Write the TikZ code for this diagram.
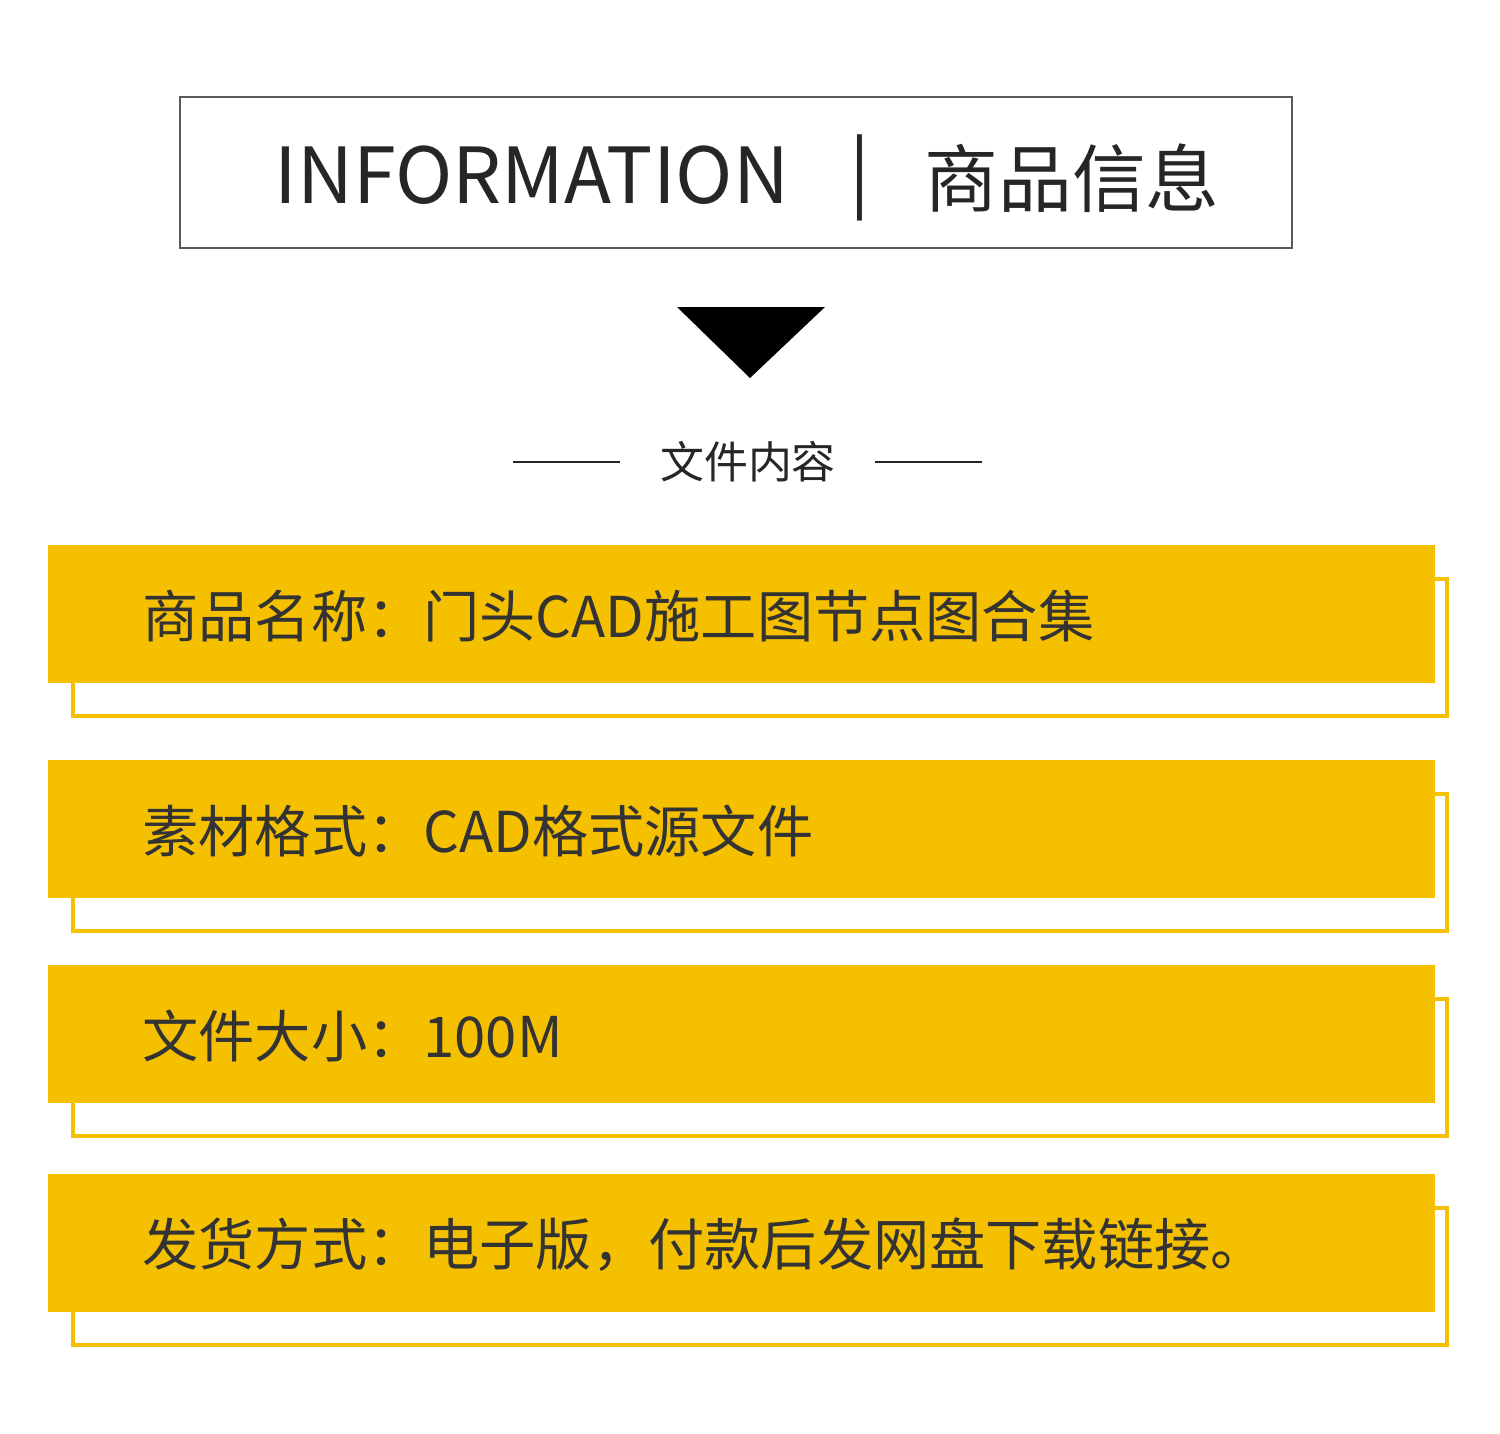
\documentclass[tikz,border=0pt]{standalone}
\usepackage{fontspec}
\setmainfont{Noto Sans CJK SC}
\usetikzlibrary{positioning}
\definecolor{barYellow}{HTML}{F5C000}
\definecolor{textGray}{HTML}{333333}
\tikzset{
    bar/.style={fill=barYellow,draw=none},
    barframe/.style={draw=barYellow,line width=1.8pt},
    bartext/.style={anchor=west,inner sep=0pt,text=textGray,font=\fontsize{32}{36}\selectfont},
}
\begin{document}
\begin{tikzpicture}[x=0.02cm,y=-0.02cm]
    \useasboundingbox[fill=white] (0,0) rectangle (1500,1433);

    % titre
    \draw[gray!70!black,line width=0.6pt] (180,97) rectangle (1292,248);
    \node[inner sep=0pt,text=black!85,font=\fontsize{44}{48}\selectfont] (info) at (532,175) {INFORMATION};
    \node[inner sep=0pt,text=black!85,font=\fontsize{44}{48}\selectfont] (sep) at (860,178) {|};
    \node[inner sep=0pt,text=black!85,font=\fontsize{42}{48}\selectfont] (title) at (1072,178) {商品信息};

    % triangle
    \fill[black] (677,307) -- (825,307) -- (750,378) -- cycle;

    % sous-titre
    \node[inner sep=0pt,text=black!85,font=\fontsize{25}{30}\selectfont] (sub) at (748,462) {文件内容};
    \coordinate (l1) at (513,462);
    \coordinate (r1) at (982,462);
    \draw[black!85,line width=1.3pt] (l1) -- (620,462);
    \draw[black!85,line width=1.3pt] (875,462) -- (r1);

    % barres
    \foreach \y/\t [count=\i] in {545/{商品名称：门头CAD施工图节点图合集},
                                  760/{素材格式：CAD格式源文件},
                                  965/{文件大小：100M},
                                  1174/{发货方式：电子版，付款后发网盘下载链接。}} {
        \draw[barframe] (73,\y+34) rectangle (1447,\y+171);
        \fill[bar] (48,\y) rectangle (1435,\y+138);
        \node[bartext] (item\i) at (142,\y+71) {\t};
    }
\end{tikzpicture}
\end{document}
